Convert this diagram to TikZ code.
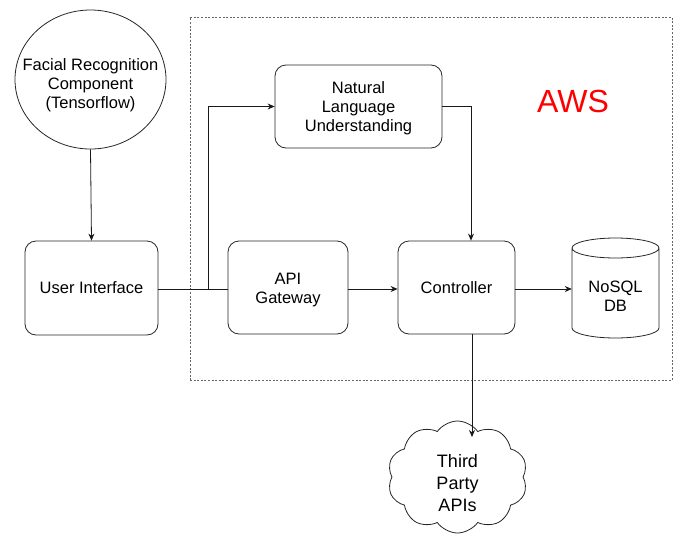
\documentclass[tikz,border=0pt]{standalone}
\usepackage{fontspec}
\setmainfont{Liberation Sans}
\usetikzlibrary{arrows.meta,shapes.geometric,shapes.symbols}
\begin{document}
\begin{tikzpicture}[x=1pt,y=-1pt,
  txt/.style={align=center,font=\fontsize{16.5}{19}\selectfont,inner sep=0pt},
  box/.style={draw=black!85,line width=0.8pt,rounded corners=11pt,inner sep=0pt},
  conn/.style={draw=black!90,line width=0.8pt},
  arr/.style={conn,-{Stealth[length=7pt,width=6pt]}}]
\useasboundingbox (0,0) rectangle (683,541);
% AWS region
\node[draw=black!60,dash pattern=on 2pt off 1.6pt,line width=0.8pt,minimum width=482pt,minimum height=363pt,inner sep=0pt] (aws) at (431,198.5) {};
\node[text=red,font=\fontsize{32}{36}\selectfont] (awslbl) at (573,101) {AWS};
% nodes
\node[ellipse,draw=black!85,line width=0.8pt,minimum width=151pt,minimum height=139pt,inner sep=0pt,
  label={[txt,yshift=-6pt]center:Facial Recognition\\Component\\(Tensorflow)}] (face) at (90.5,79.5) {};
\node[box,minimum width=133pt,minimum height=94pt,label={[txt,yshift=0pt]center:User Interface}] (ui) at (91.5,288) {};
\node[box,minimum width=120pt,minimum height=93pt,label={[txt,yshift=-3pt]center:API\\Gateway}] (api) at (288,287.5) {};
\node[box,minimum width=167pt,minimum height=83pt,label={[txt,yshift=-2pt]center:Natural\\Language\\Understanding}] (nlu) at (358.5,106.5) {};
\node[box,minimum width=117pt,minimum height=93pt,label={[txt,yshift=0pt]center:Controller}] (ctrl) at (456.5,287.5) {};
% cylinder
\draw[black!85,line width=0.8pt] (572,248) -- (572,328) arc[start angle=180,end angle=360,x radius=43.5pt,y radius=10pt] -- (659,248) arc[start angle=0,end angle=360,x radius=43.5pt,y radius=10pt];
\node[minimum width=87pt,minimum height=100pt,inner sep=0pt,label={[txt,yshift=-8pt]center:NoSQL\\DB}] (db) at (615.5,288) {};
% cloud
\node[cloud,cloud puffs=10,cloud puff arc=110,aspect=1.3,draw=black!85,line width=0.8pt,minimum width=140pt,minimum height=112pt,inner sep=0pt,
  label={[align=center,font=\fontsize{18}{22}\selectfont,inner sep=0pt,yshift=-6pt]center:Third\\Party\\APIs}] (cloud) at (457.5,477) {};
% connectors
\coordinate (split) at (208,289);
\draw[arr] (face.south) -- (ui.north);
\draw[conn] (ui.east |- split) -- (api.west |- split);
\draw[arr] (split) |- (nlu.west);
\draw[arr] (nlu.east) -| (ctrl.north -| 471,0);
\draw[arr] (api.east |- 0,289) -- (ctrl.west |- 0,289);
\draw[arr] (ctrl.east |- 0,289) -- (db.west |- 0,289);
\draw[arr] (ctrl.south -| 472,0) -- (472,437);
\end{tikzpicture}
\end{document}
